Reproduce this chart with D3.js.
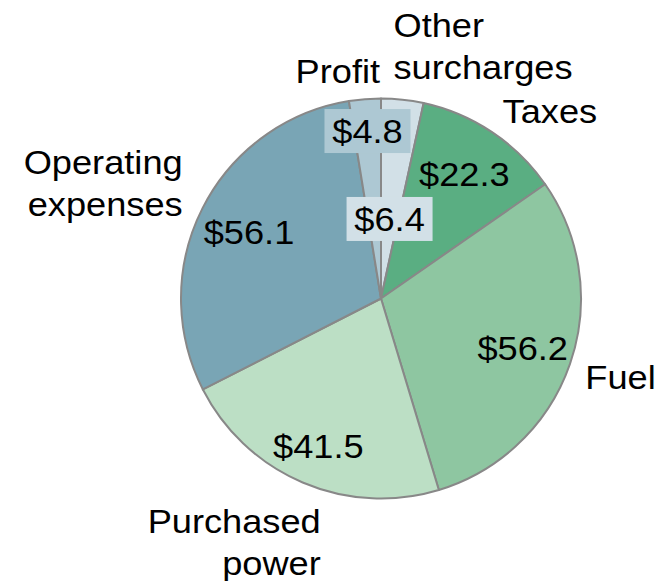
<!DOCTYPE html>
<html lang="en">
<head>
<meta charset="UTF-8">
<title>pie</title>
<style>
  body { margin: 0; background: #fff; }
  svg { display: block; }
  .lbl { font: 34px "Liberation Sans", Arial, sans-serif; fill: #000; }
  .val { font: 34px "Liberation Sans", Arial, sans-serif; fill: #000; text-anchor: middle; }
</style>
</head>
<body>
<div class="content"></div>
<script src="https://cdn.jsdelivr.net/npm/d3@7"></script>
<script>
// data, clockwise from 12 o'clock
var categories = ["Other surcharges", "Taxes", "Fuel", "Purchased power", "Operating expenses", "Profit"];
var values = [6.4, 22.3, 56.2, 41.5, 56.1, 4.8];
var colors = ["#d2e0e7", "#5aae82", "#8ec6a1", "#bcdfc5", "#79a5b5", "#adc8d3"];

var width = 669, height = 581;
var cx = 381, cy = 298.5, R = 200;
var sx = 1.065; // text in the original is a bit wider than Liberation Sans

// layout for labels (fraction of radius for values, boxes for narrow slices)
var valR = [0.40, 0.75, 0.75, 0.80, 0.74, 0.84];
var valBox = [true, false, false, false, false, true];
// outer category labels: anchor, line list, offset from the rim point
var catLines = [["Other", "surcharges"], ["Taxes"], ["Fuel"], ["Purchased", "power"], ["Operating", "expenses"], ["Profit"]];
var catAnchor = ["start", "start", "start", "end", "end", "end"];
var catOff = [[-10, -53], [5, -1], [6, 22], [22, 41], [-11, -30], [16, -6]];

var svg = d3.select(".content").append("svg")
  .attr("width", width)
  .attr("height", height);

var pie = d3.pie().sort(null).value(function (d) { return d; });
var arcs = pie(values);

var arc = d3.arc().innerRadius(0).outerRadius(R);

var g = svg.append("g").attr("transform", "translate(" + cx + "," + cy + ")");

g.selectAll("path.slice")
  .data(arcs)
  .enter().append("path")
  .attr("class", "slice")
  .attr("d", arc)
  .attr("fill", function (d, i) { return colors[i]; })
  .attr("stroke", "#888")
  .attr("stroke-width", 2)
  .attr("stroke-linejoin", "round");

// value labels
var vg = g.selectAll("g.valg")
  .data(arcs)
  .enter().append("g")
  .attr("class", "valg")
  .attr("transform", function (d, i) {
    var a = (d.startAngle + d.endAngle) / 2;
    var r = R * valR[i];
    return "translate(" + (r * Math.sin(a)) + "," + (-r * Math.cos(a)) + ")";
  });

vg.each(function (d, i) {
  var el = d3.select(this);
  if (valBox[i]) {
    el.append("rect")
      .attr("x", -43).attr("y", -22)
      .attr("width", 86).attr("height", 44)
      .attr("fill", colors[i]);
  }
  el.append("text")
    .attr("class", "val")
    .attr("y", 12)
    .attr("transform", "scale(" + sx + ",1)")
    .text("$" + values[i]);
});

// category labels
var cg = g.selectAll("g.catg")
  .data(arcs)
  .enter().append("g")
  .attr("class", "catg")
  .attr("transform", function (d, i) {
    var a = (d.startAngle + d.endAngle) / 2;
    var r = R * 1.05;
    return "translate(" + (r * Math.sin(a) + catOff[i][0]) + "," + (-r * Math.cos(a) + catOff[i][1]) + ")";
  });

cg.each(function (d, i) {
  var t = d3.select(this).append("text")
    .attr("class", "lbl")
    .attr("text-anchor", catAnchor[i])
    .attr("transform", "scale(" + sx + ",1)");
  catLines[i].forEach(function (s, k) {
    t.append("tspan").attr("x", 0).attr("y", k * 42).text(s);
  });
});
</script>
</body>
</html>
